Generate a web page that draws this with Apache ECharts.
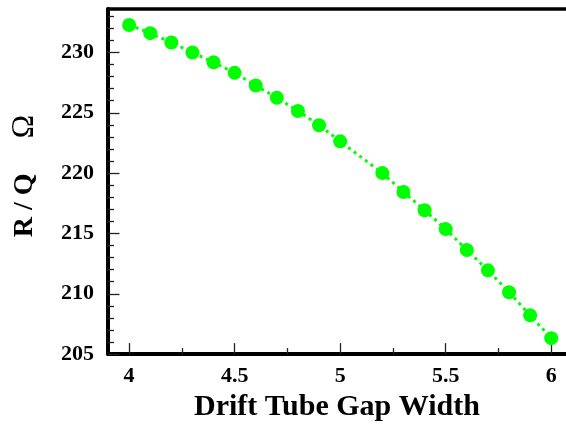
<!DOCTYPE html>
<html>
<head>
<meta charset="utf-8">
<script src="https://cdn.jsdelivr.net/npm/echarts@6/dist/echarts.min.js"></script>
<style>
  html, body { margin: 0; padding: 0; background: #fff; }
  #chart { width: 566px; height: 427px; }
</style>
</head>
<body>
<div id="chart"></div>
<script>
// drift tube gap width vs R/Q
const gapWidth = [4.0, 4.1, 4.2, 4.3, 4.4, 4.5, 4.6, 4.7, 4.8, 4.9, 5.0,
                  5.2, 5.3, 5.4, 5.5, 5.6, 5.7, 5.8, 5.9, 6.0];
const rOverQ = [232.28, 231.60, 230.82, 230.00, 229.18, 228.31, 227.26, 226.25, 225.15, 223.97, 222.63,
                220.00, 218.44, 216.92, 215.36, 213.63, 211.94, 210.13, 208.21, 206.32];

const xMajorTicks = [4, 4.5, 5, 5.5, 6];
const xMinorTicks = [4.25, 4.75, 5.25, 5.75];
const yMajorTicks = [205, 210, 215, 220, 225, 230];
const yMinorTicks = [206, 207, 208, 209, 211, 212, 213, 214, 216, 217, 218, 219,
                     221, 222, 223, 224, 226, 227, 228, 229, 231, 232, 233];

const X_MIN = 3.9, X_MAX = 6.07;
const Y_MIN = 205, Y_MAX = 233.6;

const serif = "'Liberation Serif', 'Times New Roman', serif";
const tickStyle = { color: '#222', width: 1.3 };

const chart = echarts.init(document.getElementById('chart'), null, { renderer: 'canvas' });

chart.setOption({
    animation: false,
    backgroundColor: '#fff',
    grid: { left: 108, top: 9, right: -4, bottom: 70 },
    xAxis: [
        {
            type: 'value', position: 'bottom', min: X_MIN, max: X_MAX,
            name: 'Drift Tube Gap Width', nameLocation: 'middle', nameGap: 33,
            nameTextStyle: { fontFamily: serif, fontWeight: 'bold', fontSize: 30, color: '#000' },
            axisLine: { show: true, lineStyle: { color: '#000', width: 4 } },
            axisTick: { show: true, inside: true, length: 11, customValues: xMajorTicks, lineStyle: tickStyle },
            axisLabel: {
                show: true, margin: 11, customValues: xMajorTicks,
                fontFamily: serif, fontWeight: 'bold', fontSize: 22, color: '#000'
            },
            splitLine: { show: false }
        },
        {
            // minor ticks only
            type: 'value', position: 'bottom', offset: 0, min: X_MIN, max: X_MAX,
            axisLine: { show: false },
            axisTick: { show: true, inside: true, length: 6, customValues: xMinorTicks, lineStyle: tickStyle },
            axisLabel: { show: false },
            splitLine: { show: false }
        },
        {
            // top frame line
            type: 'value', position: 'top', min: X_MIN, max: X_MAX,
            axisLine: { show: true, lineStyle: { color: '#000', width: 3.7 } },
            axisTick: { show: false },
            axisLabel: { show: false },
            splitLine: { show: false }
        }
    ],
    yAxis: [
        {
            type: 'value', position: 'left', min: Y_MIN, max: Y_MAX,
            name: '{r|R / Q}{o|Ω}', nameLocation: 'middle', nameGap: 67,
            nameTextStyle: {
                padding: [0, 0, 0, 11],
                rich: {
                    r: { fontFamily: serif, fontWeight: 'bold', fontSize: 28, color: '#000' },
                    o: { fontFamily: serif, fontWeight: 'normal', fontSize: 32, color: '#000', padding: [0, 0, 0, 35] }
                }
            },
            axisLine: { show: true, lineStyle: { color: '#000', width: 4 } },
            axisTick: { show: true, inside: true, length: 11.5, customValues: yMajorTicks, lineStyle: tickStyle },
            axisLabel: {
                show: true, margin: 14, customValues: yMajorTicks,
                fontFamily: serif, fontWeight: 'bold', fontSize: 22, color: '#000'
            },
            splitLine: { show: false }
        },
        {
            // minor ticks only
            type: 'value', position: 'left', offset: 0, min: Y_MIN, max: Y_MAX,
            axisLine: { show: false },
            axisTick: { show: true, inside: true, length: 6, customValues: yMinorTicks, lineStyle: tickStyle },
            axisLabel: { show: false },
            splitLine: { show: false }
        }
    ],
    series: [{
        type: 'line',
        xAxisIndex: 0,
        yAxisIndex: 0,
        data: gapWidth.map((x, i) => [x, rOverQ[i]]),
        symbol: 'circle',
        symbolSize: 14,
        showSymbol: true,
        itemStyle: { color: '#00ff00' },
        lineStyle: { color: '#00ff00', width: 3, type: [3, 4] }
    }]
});
</script>
</body>
</html>
